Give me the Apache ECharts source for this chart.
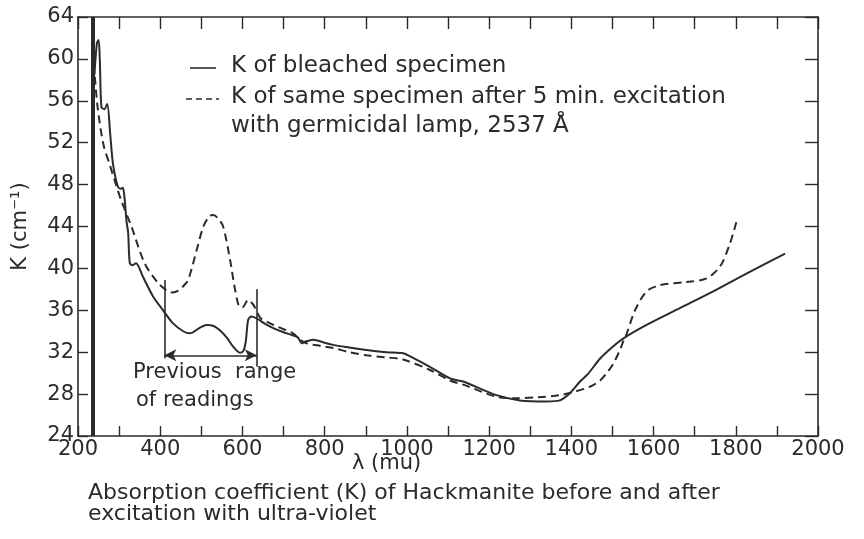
<!DOCTYPE html>
<html>
<head>
<meta charset="utf-8">
<script src="https://cdn.jsdelivr.net/npm/echarts@6/dist/echarts.min.js"></script>
<style>
  html, body { margin: 0; padding: 0; background: #fff; }
  #chart { width: 864px; height: 539px; }
</style>
</head>
<body>
<div id="chart"></div>
<script>
// wavelength (mu) and absorption coefficient K (cm^-1)
const bleachedX = [240, 246, 250, 253, 257, 264, 271, 278, 285, 297, 305, 309, 313, 318, 322, 326, 333, 341, 358, 383, 407, 430, 456, 472, 495, 513, 530, 545, 562, 578, 594, 602, 608, 614, 622, 640, 651, 675, 700, 724, 735, 744, 752, 772, 800, 821, 860, 902, 950, 991, 1008, 1056, 1105, 1137, 1218, 1275, 1340, 1372, 1397, 1421, 1440, 1470, 1500, 1526, 1583, 1664, 1745, 1826, 1920];
const bleachedK = [58.5, 61.5, 61.8, 60.0, 55.4, 55.2, 55.7, 53.0, 50.0, 47.8, 47.6, 47.7, 46.8, 44.5, 43.4, 40.5, 40.3, 40.5, 39.2, 37.3, 36.0, 34.8, 34.0, 33.8, 34.3, 34.6, 34.5, 34.1, 33.4, 32.5, 31.95, 32.1, 33.0, 35.1, 35.4, 35.1, 34.8, 34.3, 33.9, 33.6, 33.4, 32.85, 33.0, 33.2, 32.9, 32.7, 32.45, 32.2, 32.0, 31.9, 31.6, 30.6, 29.5, 29.2, 27.9, 27.4, 27.3, 27.4, 28.1, 29.2, 29.9, 31.4, 32.5, 33.3, 34.6, 36.2, 37.8, 39.5, 41.4];

const excitedX = [241, 248, 262, 278, 290, 305, 330, 362, 395, 419, 430, 445, 456, 468, 489, 505, 520, 529, 540, 553, 570, 582, 594, 600, 614, 625, 630, 643, 660, 687, 723, 740, 756, 790, 821, 860, 902, 950, 991, 1056, 1105, 1137, 1218, 1267, 1320, 1372, 1405, 1445, 1470, 1486, 1502, 1518, 1526, 1535, 1555, 1583, 1616, 1680, 1729, 1762, 1786, 1802];
const excitedK = [58.3, 55.3, 51.8, 49.8, 48.3, 46.5, 44.0, 40.5, 38.6, 37.8, 37.7, 37.9, 38.3, 38.9, 41.8, 44.0, 45.0, 45.1, 44.8, 44.0, 40.8, 38.0, 36.3, 36.3, 37.0, 36.6, 36.3, 35.3, 34.9, 34.4, 33.8, 33.2, 32.85, 32.6, 32.4, 32.0, 31.7, 31.5, 31.3, 30.3, 29.3, 28.9, 27.75, 27.6, 27.7, 27.9, 28.2, 28.7, 29.3, 30.0, 30.9, 32.2, 33.0, 33.8, 36.0, 37.8, 38.4, 38.7, 39.05, 40.2, 42.4, 44.5];

// axes
const xMin = 200, xMax = 2000, xTick = 100, xLabelStep = 200;
const yMin = 24, yMax = 64, yTick = 4;

// annotations
const cutoffX = 237;                 // heavy vertical line near the UV end
const rangeStart = 410, rangeEnd = 635;
const rangeLeftK = [31.4, 38.9];
const rangeRightK = [30.6, 38.0];
const rangeArrowK = 31.7;

const legendSolid = 'K of bleached specimen';
const legendDashed = 'K of same specimen after 5 min. excitation';
const legendDashed2 = 'with germicidal lamp, 2537 Å';
const captionLines = ['Absorption coefficient (K) of Hackmanite before and after', 'excitation with ultra-violet'];

const ink = '#2b2b2b';
const font = 'DejaVu Sans';

const zip = (xs, ys) => xs.map((x, i) => [x, ys[i]]);

const chart = echarts.init(document.getElementById('chart'), null, { renderer: 'canvas' });

const noneEnd = (c) => ({ coord: c, symbol: 'none' });

chart.setOption({
  backgroundColor: '#fff',
  animation: false,
  textStyle: { fontFamily: font, color: ink },
  grid: { left: 78, right: 46, top: 17, bottom: 103, containLabel: false, outerBoundsMode: 'none' },
  xAxis: [{
    type: 'value', min: xMin, max: xMax, interval: xTick,
    axisLine: { lineStyle: { color: ink, width: 1.6 } },
    axisTick: { inside: true, length: 10, lineStyle: { color: ink, width: 1.4 } },
    axisLabel: {
      fontSize: 21, color: ink, margin: 3, fontFamily: font,
      formatter: (v) => (v % xLabelStep === 0 ? String(v) : '')
    },
    splitLine: { show: false }
  }, {
    type: 'value', position: 'top', min: xMin, max: xMax, interval: xTick,
    axisLine: { lineStyle: { color: ink, width: 1.6 } },
    axisTick: { inside: true, length: 12, lineStyle: { color: ink, width: 1.4 } },
    axisLabel: { show: false },
    splitLine: { show: false }
  }],
  yAxis: [{
    type: 'value', min: yMin, max: yMax, interval: yTick,
    name: 'K (cm⁻¹)', nameLocation: 'middle', nameGap: 47, nameRotate: 90,
    nameTextStyle: { fontSize: 21, color: ink, fontFamily: font },
    axisLine: { lineStyle: { color: ink, width: 1.6 } },
    axisTick: { inside: true, length: 10, lineStyle: { color: ink, width: 1.4 } },
    axisLabel: { fontSize: 21, color: ink, margin: 4, fontFamily: font },
    splitLine: { show: false }
  }, {
    type: 'value', position: 'right', min: yMin, max: yMax, interval: yTick,
    axisLine: { lineStyle: { color: ink, width: 1.6 } },
    axisTick: { inside: true, length: 13, lineStyle: { color: ink, width: 1.4 } },
    axisLabel: { show: false },
    splitLine: { show: false }
  }],
  series: [{
    name: legendSolid,
    type: 'line',
    data: zip(bleachedX, bleachedK),
    smooth: 0.3,
    showSymbol: false,
    lineStyle: { color: ink, width: 2 },
    markLine: {
      silent: true,
      symbol: ['arrow', 'arrow'],
      symbolSize: [9, 12],
      label: { show: false },
      lineStyle: { color: ink, width: 1.6, type: 'solid' },
      data: [
        [{ xAxis: cutoffX, yAxis: yMin, symbol: 'none', lineStyle: { width: 4, color: ink } },
         { xAxis: cutoffX, yAxis: yMax, symbol: 'none' }],
        [noneEnd([rangeStart, rangeLeftK[0]]), noneEnd([rangeStart, rangeLeftK[1]])],
        [noneEnd([rangeEnd, rangeRightK[0]]), noneEnd([rangeEnd, rangeRightK[1]])],
        [{ coord: [rangeStart, rangeArrowK] }, { coord: [rangeEnd, rangeArrowK] }]
      ]
    }
  }, {
    name: legendDashed,
    type: 'line',
    data: zip(excitedX, excitedK),
    smooth: 0.3,
    showSymbol: false,
    lineStyle: { color: ink, width: 2, type: [8, 5] }
  }],
  graphic: [
    { type: 'line', shape: { x1: 190, y1: 68, x2: 216, y2: 68 }, style: { stroke: ink, lineWidth: 1.6 } },
    { type: 'line', shape: { x1: 186, y1: 99, x2: 219, y2: 99 }, style: { stroke: ink, lineWidth: 1.6, lineDash: [6, 4] } },
    { type: 'text', left: 231, top: 55, style: { text: legendSolid, font: '23px "DejaVu Sans"', fill: ink } },
    { type: 'text', left: 231, top: 86, style: { text: legendDashed, font: '23px "DejaVu Sans"', fill: ink } },
    { type: 'text', left: 231, top: 115, style: { text: legendDashed2, font: '23px "DejaVu Sans"', fill: ink } },
    { type: 'text', left: 133, top: 362, style: { text: 'Previous  range', font: '21px "DejaVu Sans"', fill: ink } },
    { type: 'text', left: 136, top: 390, style: { text: 'of readings', font: '21px "DejaVu Sans"', fill: ink } },
    { type: 'text', left: 352, top: 453, style: { text: 'λ (mu)', font: '21px "DejaVu Sans"', fill: ink } },
    { type: 'text', left: 88, top: 482, style: { text: captionLines[0], font: '22px "DejaVu Sans"', fill: ink } },
    { type: 'text', left: 88, top: 503, style: { text: captionLines[1], font: '22px "DejaVu Sans"', fill: ink } }
  ]
});
</script>
</body>
</html>
